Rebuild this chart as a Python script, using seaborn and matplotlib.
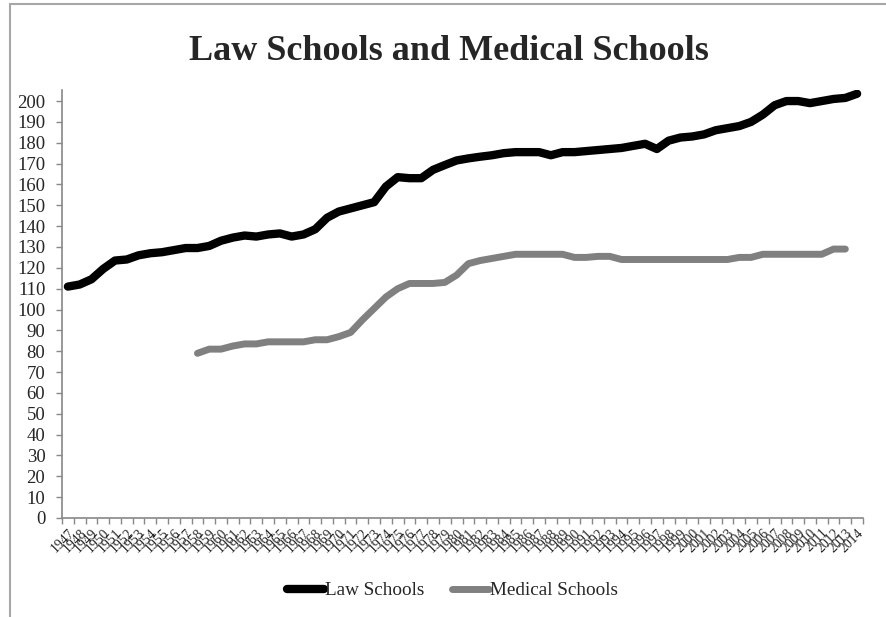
import numpy as np
import pandas as pd
import matplotlib
matplotlib.use("Agg")
import matplotlib.pyplot as plt
from matplotlib.lines import Line2D
from matplotlib.ticker import MultipleLocator, FixedLocator
import seaborn as sns

# Data
years = list(range(1947, 2015))

law_schools = [111, 112, 114.5, 119.5, 123.5, 124, 126, 127, 127.5, 128.5,
               129.5, 129.5, 130.5, 133, 134.5, 135.5, 135, 136, 136.5, 135,
               136, 138.5, 144, 147, 148.5, 150, 151.5, 159, 163.5, 163,
               163, 167, 169.3, 171.5, 172.5, 173.3, 174, 175, 175.5, 175.5,
               175.5, 174, 175.5, 175.5, 176, 176.5, 177, 177.5, 178.5, 179.5,
               177, 181, 182.5, 183, 184, 186, 187, 188, 190, 193.5,
               198, 200, 200, 199, 200, 201, 201.5, 203.5]

medical_schools = [np.nan] * 11 + [
    79, 81, 81, 82.5, 83.5, 83.5, 84.5, 84.5, 84.5, 84.5,
    85.5, 85.5, 87, 89, 95, 100.5, 106, 110, 112.5, 112.5,
    112.5, 113, 116.5, 122, 123.5, 124.5, 125.5, 126.5, 126.5, 126.5,
    126.5, 126.5, 125, 125, 125.5, 125.5, 124, 124, 124, 124,
    124, 124, 124, 124, 124, 124, 125, 125, 126.5, 126.5,
    126.5, 126.5, 126.5, 126.5, 129, 129, np.nan]

df = pd.DataFrame({"Year": years, "Law Schools": law_schools,
                   "Medical Schools": medical_schools})

sns.set_theme(style="white")
plt.rcParams["font.family"] = ["Liberation Serif", "DejaVu Serif"]

fig = plt.figure(figsize=(8.87, 6.17), dpi=100)
ax = fig.add_axes([62 / 887, 99 / 617, 801 / 887, 428 / 617])

sns.lineplot(data=df, x="Year", y="Law Schools", color="black", linewidth=6,
             solid_capstyle="round", solid_joinstyle="round", ax=ax,
             label="Law Schools")
sns.lineplot(data=df, x="Year", y="Medical Schools", color="#808080", linewidth=5,
             solid_capstyle="round", solid_joinstyle="round", ax=ax,
             label="Medical Schools")

ax.set_xlim(1946.5, 2014.5)
ax.set_ylim(0, 205.3)
ax.yaxis.set_major_locator(MultipleLocator(10))
ax.set_xticks(years)
ax.set_xticklabels([str(y) for y in years], rotation=45, ha="right",
                   rotation_mode="anchor", fontsize=9.8)
ax.xaxis.set_minor_locator(FixedLocator(np.arange(1946.5, 2015, 1)))
ax.tick_params(axis="x", which="major", length=0, pad=6)
ax.tick_params(axis="x", which="minor", length=4, width=1, color="#888888",
               direction="out", bottom=True)
ax.tick_params(axis="y", length=4, width=1, color="#888888", direction="out",
               left=True, labelsize=13.5, pad=8)
ax.set_xlabel("")
ax.set_ylabel("")

for side in ["top", "right"]:
    ax.spines[side].set_visible(False)
for side in ["left", "bottom"]:
    ax.spines[side].set_color("#888888")
    ax.spines[side].set_linewidth(1.2)

leg = ax.legend(loc="center", bbox_to_anchor=(0.4875, -0.17), ncol=2,
                frameon=False, fontsize=13.8, handlelength=1.95,
                handletextpad=0.05, columnspacing=1.4)

fig.text(449 / 887, 1 - 60 / 617, "Law Schools and Medical Schools",
         ha="center", va="baseline", fontsize=26, fontweight="bold")

# Chart area border (cropped on the right and bottom)
fig.add_artist(Line2D([10 / 887, 10 / 887], [0, 1 - 4 / 617],
                      transform=fig.transFigure, color="#a6a6a6", linewidth=1.5))
fig.add_artist(Line2D([10 / 887, 1], [1 - 4 / 617, 1 - 4 / 617],
                      transform=fig.transFigure, color="#a6a6a6", linewidth=1.5))

fig.savefig("out.png", dpi=100, facecolor="white")
plt.close(fig)
